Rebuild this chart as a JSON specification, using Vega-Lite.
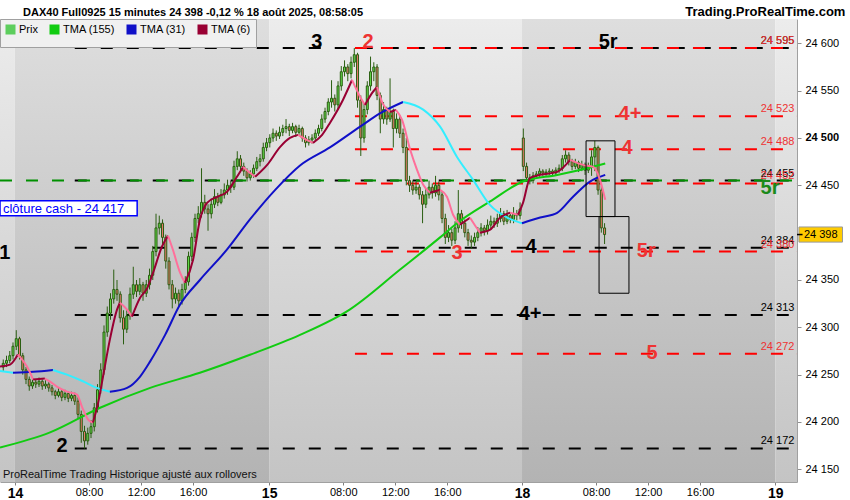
{
"$schema":"https://vega.github.io/schema/vega-lite/v6.json",
"width":797,"height":463,
"autosize":{"type":"none"},
"padding":{"left":0,"top":19,"right":53,"bottom":18},
"background":"#ffffff",
"config":{"view":{"stroke":null},"font":"Liberation Sans"},
"datasets":{
"bands":[{"a":0,"b":4.6,"k":"c"},{"a":4.6,"b":82.8,"k":"f"},{"a":82.8,"b":160.6,"k":"c"},{"a":160.6,"b":238.5,"k":"f"},{"a":238.5,"b":245.2,"k":"c"}],
"levels":[
{"p":24595,"a":23,"k":"noir","lab":"24 595"},{"p":24455,"a":23,"k":"noir","lab":"24 455"},{"p":24384,"a":23,"k":"noir","lab":"24 384"},{"p":24313,"a":23,"k":"noir","lab":"24 313"},{"p":24172,"a":23,"k":"noir","lab":"24 172"},
{"p":24455,"a":0,"k":"vert","lab":""},
{"p":24595,"a":109.2,"k":"rouge","lab":"24 595"},{"p":24523,"a":109.2,"k":"rouge","lab":"24 523"},{"p":24488,"a":109.2,"k":"rouge","lab":"24 488"},{"p":24452,"a":109.2,"k":"rouge","lab":"24 452"},{"p":24380,"a":109.2,"k":"rouge","lab":"24 380"},{"p":24272,"a":109.2,"k":"rouge","lab":"24 272"}],
"notes":[
{"lab":"3","t":97.5,"p":24601,"k":"noir"},{"lab":"2","t":113.2,"p":24601,"k":"rouge"},{"lab":"5r","t":187.1,"p":24601,"k":"noir"},
{"lab":"4+","t":193.8,"p":24525,"k":"rouge"},{"lab":"4","t":192.9,"p":24489,"k":"rouge"},{"lab":"5r","t":236.9,"p":24447,"k":"vert"},
{"lab":"1","t":1.5,"p":24379,"k":"noir"},{"lab":"3","t":140.6,"p":24379,"k":"rouge"},{"lab":"4","t":163.4,"p":24385,"k":"noir"},
{"lab":"5r","t":198.8,"p":24381,"k":"rouge"},{"lab":"4+","t":163.1,"p":24314,"k":"noir"},{"lab":"5","t":200.6,"p":24273,"k":"rouge"},{"lab":"2","t":19.1,"p":24175,"k":"noir"}],
"boxes":[{"a":180.3,"b":189.2,"lo":24417,"hi":24497},{"a":184.3,"b":193.5,"lo":24336,"hi":24417}],
"cash":[{"t0":0,"t1":42.2,"p0":24417.8,"p1":24433.6,"tx":0.9,"py":24425.5,"lab":"clôture cash - 24 417"}],
"marker":[{"t0":245.8,"t1":259.2,"p0":24390,"p1":24406,"tc":252.5,"p":24398,"lab":"24 398"}],
"foot":[{"t":0.9,"p":24143.5,"lab":"ProRealTime Trading  Historique ajusté aux rollovers"}],
"site":[{"t":260.1,"p":24629,"lab":"Trading.ProRealTime.com"}],
"head":[{"t":7.1,"p":24629,"lab":"DAX40 Full0925 15 minutes 24 398 -0,12 % 18 août 2025, 08:58:05"}],
"candles":[
{"t":1,"o":24258,"h":24266,"l":24254,"c":24262},{"t":2,"o":24262,"h":24270,"l":24258,"c":24265},{"t":3,"o":24265,"h":24275,"l":24262,"c":24270},{"t":4,"o":24270,"h":24284,"l":24266,"c":24280},{"t":5,"o":24280,"h":24297,"l":24276,"c":24288},
{"t":6,"o":24288,"h":24290,"l":24266,"c":24270},{"t":7,"o":24270,"h":24273,"l":24250,"c":24255},{"t":8,"o":24255,"h":24258,"l":24240,"c":24245},{"t":9,"o":24245,"h":24248,"l":24233,"c":24238},{"t":10,"o":24238,"h":24246,"l":24235,"c":24242},
{"t":11,"o":24242,"h":24245,"l":24236,"c":24240},{"t":12,"o":24240,"h":24247,"l":24237,"c":24243},{"t":13,"o":24243,"h":24245,"l":24234,"c":24238},{"t":14,"o":24238,"h":24244,"l":24235,"c":24240},{"t":15,"o":24240,"h":24242,"l":24232,"c":24236},
{"t":16,"o":24236,"h":24239,"l":24228,"c":24232},{"t":17,"o":24232,"h":24234,"l":24224,"c":24228},{"t":18,"o":24228,"h":24236,"l":24226,"c":24232},{"t":19,"o":24232,"h":24234,"l":24222,"c":24226},{"t":20,"o":24226,"h":24234,"l":24223,"c":24230},
{"t":21,"o":24230,"h":24232,"l":24221,"c":24225},{"t":22,"o":24225,"h":24232,"l":24222,"c":24228},{"t":23,"o":24228,"h":24231,"l":24218,"c":24222},{"t":24,"o":24222,"h":24226,"l":24203,"c":24208},{"t":25,"o":24208,"h":24212,"l":24178,"c":24190},
{"t":26,"o":24190,"h":24196,"l":24172,"c":24180},{"t":27,"o":24180,"h":24194,"l":24176,"c":24188},{"t":28,"o":24188,"h":24202,"l":24183,"c":24195},{"t":29,"o":24195,"h":24220,"l":24190,"c":24215},{"t":30,"o":24215,"h":24240,"l":24210,"c":24234},
{"t":31,"o":24234,"h":24262,"l":24230,"c":24255},{"t":32,"o":24255,"h":24302,"l":24250,"c":24295},{"t":33,"o":24295,"h":24322,"l":24290,"c":24315},{"t":34,"o":24315,"h":24336,"l":24308,"c":24330},{"t":35,"o":24330,"h":24361,"l":24325,"c":24340},
{"t":36,"o":24340,"h":24350,"l":24328,"c":24335},{"t":37,"o":24335,"h":24338,"l":24305,"c":24310},{"t":38,"o":24310,"h":24318,"l":24282,"c":24298},{"t":39,"o":24298,"h":24318,"l":24294,"c":24312},{"t":40,"o":24312,"h":24342,"l":24308,"c":24335},
{"t":41,"o":24335,"h":24364,"l":24330,"c":24345},{"t":42,"o":24345,"h":24350,"l":24332,"c":24338},{"t":43,"o":24338,"h":24352,"l":24334,"c":24345},{"t":44,"o":24345,"h":24348,"l":24328,"c":24336},{"t":45,"o":24336,"h":24350,"l":24332,"c":24345},
{"t":46,"o":24345,"h":24362,"l":24340,"c":24355},{"t":47,"o":24355,"h":24386,"l":24350,"c":24380},{"t":48,"o":24380,"h":24420,"l":24375,"c":24405},{"t":49,"o":24405,"h":24418,"l":24398,"c":24410},{"t":50,"o":24410,"h":24414,"l":24388,"c":24395},
{"t":51,"o":24395,"h":24398,"l":24362,"c":24370},{"t":52,"o":24370,"h":24374,"l":24340,"c":24345},{"t":53,"o":24345,"h":24350,"l":24320,"c":24330},{"t":54,"o":24330,"h":24342,"l":24325,"c":24336},{"t":55,"o":24336,"h":24340,"l":24322,"c":24328},
{"t":56,"o":24328,"h":24346,"l":24324,"c":24340},{"t":57,"o":24340,"h":24354,"l":24336,"c":24348},{"t":58,"o":24348,"h":24380,"l":24344,"c":24375},{"t":59,"o":24375,"h":24400,"l":24370,"c":24395},{"t":60,"o":24395,"h":24420,"l":24390,"c":24415},
{"t":61,"o":24415,"h":24428,"l":24410,"c":24420},{"t":62,"o":24420,"h":24468,"l":24416,"c":24432},{"t":63,"o":24432,"h":24440,"l":24420,"c":24425},{"t":64,"o":24425,"h":24430,"l":24402,"c":24420},{"t":65,"o":24420,"h":24436,"l":24415,"c":24430},
{"t":66,"o":24430,"h":24446,"l":24426,"c":24438},{"t":67,"o":24438,"h":24442,"l":24428,"c":24432},{"t":68,"o":24432,"h":24446,"l":24430,"c":24440},{"t":69,"o":24440,"h":24452,"l":24436,"c":24445},{"t":70,"o":24445,"h":24456,"l":24440,"c":24450},
{"t":71,"o":24450,"h":24455,"l":24442,"c":24448},{"t":72,"o":24448,"h":24476,"l":24445,"c":24470},{"t":73,"o":24470,"h":24486,"l":24466,"c":24478},{"t":74,"o":24478,"h":24482,"l":24465,"c":24470},{"t":75,"o":24470,"h":24474,"l":24460,"c":24465},
{"t":76,"o":24465,"h":24468,"l":24454,"c":24458},{"t":77,"o":24458,"h":24466,"l":24455,"c":24462},{"t":78,"o":24462,"h":24472,"l":24458,"c":24468},{"t":79,"o":24468,"h":24480,"l":24465,"c":24475},{"t":80,"o":24475,"h":24483,"l":24470,"c":24478},
{"t":81,"o":24478,"h":24495,"l":24475,"c":24490},{"t":82,"o":24490,"h":24500,"l":24486,"c":24495},{"t":83,"o":24495,"h":24504,"l":24490,"c":24500},{"t":84,"o":24500,"h":24510,"l":24496,"c":24505},{"t":85,"o":24505,"h":24508,"l":24497,"c":24502},
{"t":86,"o":24502,"h":24512,"l":24499,"c":24506},{"t":87,"o":24506,"h":24514,"l":24502,"c":24510},{"t":88,"o":24510,"h":24520,"l":24505,"c":24512},{"t":89,"o":24512,"h":24515,"l":24502,"c":24508},{"t":90,"o":24508,"h":24516,"l":24505,"c":24512},
{"t":91,"o":24512,"h":24514,"l":24501,"c":24506},{"t":92,"o":24506,"h":24514,"l":24503,"c":24510},{"t":93,"o":24510,"h":24512,"l":24496,"c":24500},{"t":94,"o":24500,"h":24503,"l":24490,"c":24495},{"t":95,"o":24495,"h":24502,"l":24492,"c":24498},
{"t":96,"o":24498,"h":24504,"l":24494,"c":24500},{"t":97,"o":24500,"h":24509,"l":24497,"c":24505},{"t":98,"o":24505,"h":24514,"l":24502,"c":24510},{"t":99,"o":24510,"h":24525,"l":24507,"c":24520},{"t":100,"o":24520,"h":24532,"l":24516,"c":24528},
{"t":101,"o":24528,"h":24542,"l":24524,"c":24538},{"t":102,"o":24538,"h":24561,"l":24532,"c":24542},{"t":103,"o":24542,"h":24546,"l":24528,"c":24535},{"t":104,"o":24535,"h":24560,"l":24530,"c":24555},{"t":105,"o":24555,"h":24576,"l":24550,"c":24570},
{"t":106,"o":24570,"h":24582,"l":24565,"c":24575},{"t":107,"o":24575,"h":24578,"l":24560,"c":24568},{"t":108,"o":24568,"h":24586,"l":24563,"c":24580},{"t":109,"o":24580,"h":24595,"l":24575,"c":24588},{"t":110,"o":24588,"h":24590,"l":24532,"c":24540},
{"t":111,"o":24540,"h":24545,"l":24481,"c":24500},{"t":112,"o":24500,"h":24536,"l":24495,"c":24530},{"t":113,"o":24530,"h":24560,"l":24525,"c":24555},{"t":114,"o":24555,"h":24586,"l":24550,"c":24570},{"t":115,"o":24570,"h":24580,"l":24560,"c":24575},
{"t":116,"o":24575,"h":24578,"l":24540,"c":24545},{"t":117,"o":24545,"h":24548,"l":24505,"c":24520},{"t":118,"o":24520,"h":24538,"l":24515,"c":24530},{"t":119,"o":24530,"h":24533,"l":24514,"c":24520},{"t":120,"o":24520,"h":24563,"l":24517,"c":24528},
{"t":121,"o":24528,"h":24531,"l":24490,"c":24510},{"t":122,"o":24510,"h":24526,"l":24505,"c":24520},{"t":123,"o":24520,"h":24524,"l":24500,"c":24505},{"t":124,"o":24505,"h":24510,"l":24484,"c":24490},{"t":125,"o":24490,"h":24500,"l":24450,"c":24455},
{"t":126,"o":24455,"h":24460,"l":24443,"c":24450},{"t":127,"o":24450,"h":24455,"l":24440,"c":24445},{"t":128,"o":24445,"h":24454,"l":24441,"c":24448},{"t":129,"o":24448,"h":24451,"l":24435,"c":24440},{"t":130,"o":24440,"h":24444,"l":24410,"c":24430},
{"t":131,"o":24430,"h":24446,"l":24426,"c":24440},{"t":132,"o":24440,"h":24455,"l":24436,"c":24448},{"t":133,"o":24448,"h":24452,"l":24436,"c":24442},{"t":134,"o":24442,"h":24460,"l":24438,"c":24450},{"t":135,"o":24450,"h":24454,"l":24434,"c":24440},
{"t":136,"o":24440,"h":24444,"l":24410,"c":24415},{"t":137,"o":24415,"h":24420,"l":24388,"c":24395},{"t":138,"o":24395,"h":24408,"l":24390,"c":24400},{"t":139,"o":24400,"h":24404,"l":24386,"c":24392},{"t":140,"o":24392,"h":24412,"l":24388,"c":24405},
{"t":141,"o":24405,"h":24445,"l":24400,"c":24420},{"t":142,"o":24420,"h":24424,"l":24404,"c":24410},{"t":143,"o":24410,"h":24414,"l":24395,"c":24400},{"t":144,"o":24400,"h":24404,"l":24386,"c":24392},{"t":145,"o":24392,"h":24397,"l":24383,"c":24390},
{"t":146,"o":24390,"h":24400,"l":24386,"c":24395},{"t":147,"o":24395,"h":24406,"l":24391,"c":24400},{"t":148,"o":24400,"h":24410,"l":24396,"c":24405},{"t":149,"o":24405,"h":24408,"l":24397,"c":24402},{"t":150,"o":24402,"h":24414,"l":24398,"c":24408},
{"t":151,"o":24408,"h":24418,"l":24404,"c":24412},{"t":152,"o":24412,"h":24416,"l":24405,"c":24410},{"t":153,"o":24410,"h":24420,"l":24406,"c":24415},{"t":154,"o":24415,"h":24426,"l":24411,"c":24420},{"t":155,"o":24420,"h":24423,"l":24408,"c":24412},
{"t":156,"o":24412,"h":24424,"l":24409,"c":24418},{"t":157,"o":24418,"h":24421,"l":24410,"c":24414},{"t":158,"o":24414,"h":24427,"l":24410,"c":24420},{"t":159,"o":24420,"h":24424,"l":24413,"c":24418},{"t":160,"o":24418,"h":24432,"l":24414,"c":24425},
{"t":161,"o":24500,"h":24510,"l":24465,"c":24470},{"t":162,"o":24470,"h":24474,"l":24454,"c":24458},{"t":163,"o":24458,"h":24462,"l":24451,"c":24455},{"t":164,"o":24455,"h":24464,"l":24452,"c":24460},{"t":165,"o":24460,"h":24465,"l":24457,"c":24462},
{"t":166,"o":24462,"h":24468,"l":24459,"c":24465},{"t":167,"o":24465,"h":24467,"l":24460,"c":24463},{"t":168,"o":24463,"h":24467,"l":24460,"c":24464},{"t":169,"o":24464,"h":24468,"l":24461,"c":24465},{"t":170,"o":24465,"h":24467,"l":24460,"c":24463},
{"t":171,"o":24463,"h":24469,"l":24460,"c":24466},{"t":172,"o":24466,"h":24472,"l":24463,"c":24468},{"t":173,"o":24468,"h":24482,"l":24465,"c":24478},{"t":174,"o":24478,"h":24487,"l":24474,"c":24482},{"t":175,"o":24482,"h":24485,"l":24471,"c":24475},
{"t":176,"o":24475,"h":24478,"l":24466,"c":24470},{"t":177,"o":24470,"h":24478,"l":24467,"c":24474},{"t":178,"o":24474,"h":24476,"l":24464,"c":24468},{"t":179,"o":24468,"h":24476,"l":24465,"c":24472},{"t":180,"o":24472,"h":24474,"l":24461,"c":24466},
{"t":181,"o":24466,"h":24474,"l":24463,"c":24470},{"t":182,"o":24470,"h":24487,"l":24460,"c":24480},{"t":183,"o":24480,"h":24497,"l":24465,"c":24490},{"t":184,"o":24490,"h":24492,"l":24440,"c":24445},{"t":185,"o":24445,"h":24450,"l":24400,"c":24405},
{"t":186,"o":24405,"h":24410,"l":24388,"c":24398}],
"ma":[
{"t":0,"v":24173,"k":"TMA (155)","g":"a"},{"t":15.4,"v":24189,"k":"TMA (155)","g":"a"},{"t":30.8,"v":24215,"k":"TMA (155)","g":"a"},{"t":46.2,"v":24236,"k":"TMA (155)","g":"a"},{"t":61.5,"v":24252,"k":"TMA (155)","g":"a"},{"t":76.9,"v":24271,"k":"TMA (155)","g":"a"},{"t":92.3,"v":24292,"k":"TMA (155)","g":"a"},{"t":107.7,"v":24319,"k":"TMA (155)","g":"a"},{"t":123.1,"v":24361,"k":"TMA (155)","g":"a"},{"t":135.4,"v":24395,"k":"TMA (155)","g":"a"},{"t":140.6,"v":24410,"k":"TMA (155)","g":"a"},{"t":150.8,"v":24433,"k":"TMA (155)","g":"a"},{"t":160.9,"v":24454,"k":"TMA (155)","g":"a"},{"t":171.4,"v":24461,"k":"TMA (155)","g":"a"},{"t":180.6,"v":24468,"k":"TMA (155)","g":"a"},{"t":186.2,"v":24473,"k":"TMA (155)","g":"a"},
{"t":0,"v":24254,"k":"TMA (31) b","g":"b1"},{"t":4.0,"v":24252,"k":"TMA (31) b","g":"b1"},
{"t":4.0,"v":24252,"k":"TMA (31)","g":"b2"},{"t":10.2,"v":24253,"k":"TMA (31)","g":"b2"},{"t":16.3,"v":24255,"k":"TMA (31)","g":"b2"},
{"t":16.3,"v":24255,"k":"TMA (31) b","g":"b3"},{"t":20.6,"v":24250,"k":"TMA (31) b","g":"b3"},{"t":25.5,"v":24243,"k":"TMA (31) b","g":"b3"},{"t":29.8,"v":24236,"k":"TMA (31) b","g":"b3"},{"t":33.8,"v":24232,"k":"TMA (31) b","g":"b3"},
{"t":33.8,"v":24232,"k":"TMA (31)","g":"b4"},{"t":39.1,"v":24236,"k":"TMA (31)","g":"b4"},{"t":43.1,"v":24248,"k":"TMA (31)","g":"b4"},{"t":46.2,"v":24264,"k":"TMA (31)","g":"b4"},{"t":50.8,"v":24292,"k":"TMA (31)","g":"b4"},{"t":55.4,"v":24324,"k":"TMA (31)","g":"b4"},{"t":61.5,"v":24350,"k":"TMA (31)","g":"b4"},{"t":69.8,"v":24382,"k":"TMA (31)","g":"b4"},{"t":76.9,"v":24414,"k":"TMA (31)","g":"b4"},{"t":84.6,"v":24445,"k":"TMA (31)","g":"b4"},{"t":92.3,"v":24471,"k":"TMA (31)","g":"b4"},{"t":101.5,"v":24490,"k":"TMA (31)","g":"b4"},{"t":110.8,"v":24512,"k":"TMA (31)","g":"b4"},{"t":116.9,"v":24526,"k":"TMA (31)","g":"b4"},{"t":124.0,"v":24538,"k":"TMA (31)","g":"b4"},
{"t":124.0,"v":24538,"k":"TMA (31) b","g":"b5"},{"t":130.2,"v":24530,"k":"TMA (31) b","g":"b5"},{"t":135.4,"v":24512,"k":"TMA (31) b","g":"b5"},{"t":140.6,"v":24480,"k":"TMA (31) b","g":"b5"},{"t":145.5,"v":24456,"k":"TMA (31) b","g":"b5"},{"t":150.8,"v":24429,"k":"TMA (31) b","g":"b5"},{"t":156.0,"v":24416,"k":"TMA (31) b","g":"b5"},{"t":160.6,"v":24410,"k":"TMA (31) b","g":"b5"},
{"t":160.6,"v":24410,"k":"TMA (31)","g":"b6"},{"t":166.2,"v":24416,"k":"TMA (31)","g":"b6"},{"t":171.4,"v":24421,"k":"TMA (31)","g":"b6"},{"t":176.3,"v":24438,"k":"TMA (31)","g":"b6"},{"t":181.5,"v":24454,"k":"TMA (31)","g":"b6"},{"t":186.2,"v":24461,"k":"TMA (31)","g":"b6"},
{"t":0,"v":24258.5,"k":"TMA (6)","g":"c1"},{"t":3.1,"v":24260.6,"k":"TMA (6)","g":"c1"},{"t":5.5,"v":24271.2,"k":"TMA (6)","g":"c1"},
{"t":5.5,"v":24271.2,"k":"TMA (6) b","g":"c2"},{"t":8.3,"v":24258.5,"k":"TMA (6) b","g":"c2"},{"t":10.2,"v":24244.8,"k":"TMA (6) b","g":"c2"},
{"t":10.2,"v":24244.8,"k":"TMA (6)","g":"c3"},{"t":13.8,"v":24245.9,"k":"TMA (6)","g":"c3"},
{"t":13.8,"v":24245.9,"k":"TMA (6) b","g":"c4"},{"t":15.4,"v":24242.7,"k":"TMA (6) b","g":"c4"},{"t":17.5,"v":24237.4,"k":"TMA (6) b","g":"c4"},{"t":20.6,"v":24232.1,"k":"TMA (6) b","g":"c4"},{"t":23.7,"v":24229.0,"k":"TMA (6) b","g":"c4"},{"t":25.2,"v":24216.3,"k":"TMA (6) b","g":"c4"},{"t":27.1,"v":24202.6,"k":"TMA (6) b","g":"c4"},{"t":28.6,"v":24199.4,"k":"TMA (6) b","g":"c4"},
{"t":28.6,"v":24199.4,"k":"TMA (6)","g":"c5"},{"t":30.2,"v":24220.5,"k":"TMA (6)","g":"c5"},{"t":31.7,"v":24248.0,"k":"TMA (6)","g":"c5"},{"t":33.8,"v":24287.0,"k":"TMA (6)","g":"c5"},{"t":36,"v":24318.7,"k":"TMA (6)","g":"c5"},{"t":36.9,"v":24326.0,"k":"TMA (6)","g":"c5"},
{"t":36.9,"v":24326.0,"k":"TMA (6) b","g":"c6"},{"t":39.1,"v":24318.7,"k":"TMA (6) b","g":"c6"},{"t":40.6,"v":24311.3,"k":"TMA (6) b","g":"c6"},
{"t":40.6,"v":24311.3,"k":"TMA (6)","g":"c7"},{"t":43.1,"v":24331.3,"k":"TMA (6)","g":"c7"},{"t":45.2,"v":24340.8,"k":"TMA (6)","g":"c7"},{"t":47.1,"v":24357.7,"k":"TMA (6)","g":"c7"},{"t":49.8,"v":24385.1,"k":"TMA (6)","g":"c7"},{"t":51.7,"v":24396.7,"k":"TMA (6)","g":"c7"},
{"t":51.7,"v":24396.7,"k":"TMA (6) b","g":"c8"},{"t":53.2,"v":24381.9,"k":"TMA (6) b","g":"c8"},{"t":55.4,"v":24357.7,"k":"TMA (6) b","g":"c8"},{"t":56.9,"v":24347.1,"k":"TMA (6) b","g":"c8"},
{"t":56.9,"v":24347.1,"k":"TMA (6)","g":"c9"},{"t":59.4,"v":24371.4,"k":"TMA (6)","g":"c9"},{"t":61.5,"v":24413.6,"k":"TMA (6)","g":"c9"},{"t":63.7,"v":24431.5,"k":"TMA (6)","g":"c9"},{"t":66.8,"v":24437.9,"k":"TMA (6)","g":"c9"},{"t":69.8,"v":24443.1,"k":"TMA (6)","g":"c9"},{"t":72.9,"v":24459.0,"k":"TMA (6)","g":"c9"},{"t":74.8,"v":24469.5,"k":"TMA (6)","g":"c9"},
{"t":74.8,"v":24469.5,"k":"TMA (6) b","g":"c10"},{"t":76.9,"v":24463.2,"k":"TMA (6) b","g":"c10"},{"t":78.5,"v":24459.0,"k":"TMA (6) b","g":"c10"},
{"t":78.5,"v":24459.0,"k":"TMA (6)","g":"c11"},{"t":82.2,"v":24471.6,"k":"TMA (6)","g":"c11"},{"t":86.2,"v":24490.6,"k":"TMA (6)","g":"c11"},{"t":89.2,"v":24500.1,"k":"TMA (6)","g":"c11"},{"t":91.7,"v":24503.3,"k":"TMA (6)","g":"c11"},
{"t":91.7,"v":24503.3,"k":"TMA (6) b","g":"c12"},{"t":93.8,"v":24499.1,"k":"TMA (6) b","g":"c12"},{"t":96.3,"v":24494.8,"k":"TMA (6) b","g":"c12"},
{"t":96.3,"v":24494.8,"k":"TMA (6)","g":"c13"},{"t":99.1,"v":24503.3,"k":"TMA (6)","g":"c13"},{"t":101.5,"v":24515.9,"k":"TMA (6)","g":"c13"},{"t":105.5,"v":24540.2,"k":"TMA (6)","g":"c13"},{"t":108.3,"v":24561.3,"k":"TMA (6)","g":"c13"},
{"t":108.3,"v":24561.3,"k":"TMA (6) b","g":"c14"},{"t":110.8,"v":24543.4,"k":"TMA (6) b","g":"c14"},{"t":112.3,"v":24534.9,"k":"TMA (6) b","g":"c14"},
{"t":112.3,"v":24534.9,"k":"TMA (6)","g":"c15"},{"t":114.5,"v":24547.6,"k":"TMA (6)","g":"c15"},{"t":116,"v":24553.9,"k":"TMA (6)","g":"c15"},
{"t":116,"v":24553.9,"k":"TMA (6) b","g":"c16"},{"t":117.8,"v":24536.0,"k":"TMA (6) b","g":"c16"},{"t":120,"v":24527.5,"k":"TMA (6) b","g":"c16"},
{"t":120,"v":24527.5,"k":"TMA (6)","g":"c17"},{"t":121.8,"v":24529.7,"k":"TMA (6)","g":"c17"},
{"t":121.8,"v":24529.7,"k":"TMA (6) b","g":"c18"},{"t":123.7,"v":24519.1,"k":"TMA (6) b","g":"c18"},{"t":126.2,"v":24487.5,"k":"TMA (6) b","g":"c18"},{"t":128.3,"v":24466.4,"k":"TMA (6) b","g":"c18"},{"t":130.2,"v":24450.5,"k":"TMA (6) b","g":"c18"},{"t":132.3,"v":24442.1,"k":"TMA (6) b","g":"c18"},
{"t":132.3,"v":24442.1,"k":"TMA (6)","g":"c19"},{"t":135.4,"v":24445.3,"k":"TMA (6)","g":"c19"},
{"t":135.4,"v":24445.3,"k":"TMA (6) b","g":"c20"},{"t":137.5,"v":24437.9,"k":"TMA (6) b","g":"c20"},{"t":139.4,"v":24418.9,"k":"TMA (6) b","g":"c20"},{"t":141.5,"v":24408.3,"k":"TMA (6) b","g":"c20"},
{"t":141.5,"v":24408.3,"k":"TMA (6)","g":"c21"},{"t":144.6,"v":24415.7,"k":"TMA (6)","g":"c21"},
{"t":144.6,"v":24415.7,"k":"TMA (6) b","g":"c22"},{"t":146.2,"v":24407.3,"k":"TMA (6) b","g":"c22"},{"t":147.7,"v":24399.9,"k":"TMA (6) b","g":"c22"},
{"t":147.7,"v":24399.9,"k":"TMA (6)","g":"c23"},{"t":150.8,"v":24403.1,"k":"TMA (6)","g":"c23"},{"t":153.8,"v":24415.7,"k":"TMA (6)","g":"c23"},{"t":156.9,"v":24421.0,"k":"TMA (6)","g":"c23"},
{"t":156.9,"v":24421.0,"k":"TMA (6) b","g":"c24"},{"t":159.4,"v":24418.9,"k":"TMA (6) b","g":"c24"},
{"t":159.4,"v":24418.9,"k":"TMA (6)","g":"c25"},{"t":160.9,"v":24431.5,"k":"TMA (6)","g":"c25"},{"t":163.1,"v":24457.9,"k":"TMA (6)","g":"c25"},{"t":166.2,"v":24461.1,"k":"TMA (6)","g":"c25"},{"t":171.4,"v":24464.2,"k":"TMA (6)","g":"c25"},{"t":175.4,"v":24476.9,"k":"TMA (6)","g":"c25"},
{"t":175.4,"v":24476.9,"k":"TMA (6) b","g":"c26"},{"t":179.4,"v":24471.6,"k":"TMA (6) b","g":"c26"},{"t":182.5,"v":24469.5,"k":"TMA (6) b","g":"c26"},{"t":184.6,"v":24455.8,"k":"TMA (6) b","g":"c26"},{"t":186.2,"v":24434.7,"k":"TMA (6) b","g":"c26"}]
},
"layer":[
{"data":{"name":"bands"},"transform":[{"filter":"datum.k=='f'"}],
 "mark":{"type":"rect","color":{"gradient":"linear","x1":0,"y1":0,"x2":0,"y2":1,"stops":[{"offset":0,"color":"#dedede"},{"offset":1,"color":"#b3b3b3"}]}},
 "encoding":{"x":{"field":"a","type":"quantitative","scale":{"domain":[0,245.2],"nice":false,"zero":false,"padding":0},
   "axis":{"values":[4.6,27.4,43.4,59.4,82.8,105.6,121.6,137.6,160.6,183.4,199.4,215.4,238.5],
     "labelExpr":"datum.value<10?'14':datum.value<30?'08:00':datum.value<50?'12:00':datum.value<70?'16:00':datum.value<90?'15':datum.value<110?'08:00':datum.value<130?'12:00':datum.value<150?'16:00':datum.value<170?'18':datum.value<190?'08:00':datum.value<205?'12:00':datum.value<225?'16:00':'19'",
     "title":null,"grid":false,"tickSize":3,"tickColor":"#808080","domainColor":"#a0a0a0","labelPadding":1,"labelColor":"#000000","labelFont":"Liberation Sans","labelOverlap":false,"labelFlush":false,"labelBaseline":"top",
     "labelFontSize":{"condition":{"test":"datum.value<10 || (datum.value>80 && datum.value<90) || (datum.value>155 && datum.value<170) || datum.value>230","value":14},"value":11},
     "labelFontWeight":{"condition":{"test":"datum.value<10 || (datum.value>80 && datum.value<90) || (datum.value>155 && datum.value<170) || datum.value>230","value":"bold"},"value":"normal"}}},
  "x2":{"field":"b"}}},
{"data":{"name":"bands"},"transform":[{"filter":"datum.k=='c'"}],
 "mark":{"type":"rect","color":{"gradient":"linear","x1":0,"y1":0,"x2":0,"y2":1,"stops":[{"offset":0,"color":"#ececec"},{"offset":1,"color":"#c4c4c4"}]}},
 "encoding":{"x":{"field":"a","type":"quantitative","axis":{"title":null}},"x2":{"field":"b"}}},
{"data":{"name":"levels"},
 "mark":{"type":"rule","strokeDash":[12,14],"strokeWidth":2},
 "encoding":{"x":{"field":"a","type":"quantitative","axis":{"title":null}},"x2":{"datum":245.2},
  "y":{"field":"p","type":"quantitative","scale":{"domain":[24136.6,24625.7],"nice":false,"zero":false},
   "axis":{"orient":"right","values":[24150,24200,24250,24300,24350,24450,24500,24550,24600],"labelExpr":"replace(format(datum.value, ','), ',', ' ')","grid":false,"tickSize":4,"tickColor":"#909090","domainColor":"#a0a0a0","labelPadding":4,"labelFontSize":11,"labelFont":"Liberation Sans","labelColor":"#000000",
    "labelFontWeight":{"condition":{"test":"datum.value==24500","value":"bold"},"value":"normal"},"title":null}},
  "stroke":{"field":"k","type":"nominal","scale":{"domain":["noir","rouge","vert"],"range":["#000000","#ff0000","#009000"]},"legend":null}}},
{"data":{"name":"candles"},
 "mark":{"type":"rule","color":"#2b5e12","strokeWidth":1},
 "encoding":{"x":{"field":"t","type":"quantitative","axis":{"title":null}},
  "y":{"field":"l","type":"quantitative","axis":{"title":null}},
  "y2":{"field":"h"}}},
{"data":{"name":"candles"},
 "mark":{"type":"bar","size":2,"stroke":"#2b5e12","strokeWidth":1},
 "encoding":{"x":{"field":"t","type":"quantitative","axis":{"title":null}},
  "y":{"field":"o","type":"quantitative","axis":{"title":null}},"y2":{"field":"c"},
  "fill":{"condition":{"test":"datum.c>=datum.o","value":"#62d84a"},"value":"#e8796c"}}},
{"mark":{"type":"rule","color":"#0000ff","strokeWidth":2},
 "encoding":{"y":{"datum":24417,"type":"quantitative","axis":{"title":null}}}},
{"data":{"name":"ma"},
 "mark":{"type":"line","strokeWidth":2,"interpolate":"monotone"},
 "encoding":{"x":{"field":"t","type":"quantitative","axis":{"title":null}},
  "y":{"field":"v","type":"quantitative","axis":{"title":null}},
  "detail":{"field":"g"},
  "color":{"field":"k","type":"nominal","scale":{"domain":["Prix","TMA (155)","TMA (31)","TMA (6)","TMA (31) b","TMA (6) b"],"range":["#5dce5d","#11cc11","#1010c8","#990033","#33eeff","#ff6f9a"]},
   "legend":{"title":null,"orient":"top-left","offset":0,"direction":"horizontal","values":["Prix","TMA (155)","TMA (31)","TMA (6)"],"symbolType":"square","symbolSize":25,"symbolStrokeWidth":5,"symbolOpacity":1,"labelFontSize":11,"labelFont":"Liberation Sans","labelColor":"#000000","fillColor":"#f0f0f0","strokeColor":"#a0a0a0","padding":5,"columnPadding":4,"labelOffset":3}}}},
{"data":{"name":"cash"},
 "mark":{"type":"rect","fill":"#ffffff","stroke":"#0000ff","strokeWidth":1.5},
 "encoding":{"x":{"field":"t0","type":"quantitative","axis":{"title":null}},"x2":{"field":"t1"},"y":{"field":"p0","type":"quantitative","axis":{"title":null}},"y2":{"field":"p1"}}},
{"data":{"name":"cash"},
 "mark":{"type":"text","align":"left","baseline":"middle","fontSize":13,"color":"#0000ff","font":"Liberation Sans"},
 "encoding":{"x":{"field":"tx","type":"quantitative","axis":{"title":null}},"y":{"field":"py","type":"quantitative","axis":{"title":null}},"text":{"field":"lab"}}},
{"data":{"name":"levels"},"transform":[{"filter":"datum.k!='vert'"}],
 "mark":{"type":"text","align":"right","baseline":"alphabetic","dy":-4,"fontSize":11,"font":"Liberation Sans"},
 "encoding":{"x":{"datum":244.4,"type":"quantitative","axis":{"title":null}},"y":{"field":"p","type":"quantitative","axis":{"title":null}},"text":{"field":"lab"},
  "fill":{"field":"k","type":"nominal","scale":{"domain":["noir","rouge","vert"],"range":["#000000","#ee3333","#1a8a1a"]},"legend":null}}},
{"data":{"name":"notes"},
 "mark":{"type":"text","align":"center","baseline":"middle","fontSize":20,"fontWeight":"bold","font":"Liberation Sans"},
 "encoding":{"x":{"field":"t","type":"quantitative","axis":{"title":null}},"y":{"field":"p","type":"quantitative","axis":{"title":null}},"text":{"field":"lab"},
  "fill":{"field":"k","type":"nominal","legend":null}}},
{"data":{"name":"boxes"},
 "mark":{"type":"rect","fillOpacity":0,"stroke":"#000000","strokeWidth":1},
 "encoding":{"x":{"field":"a","type":"quantitative","axis":{"title":null}},"x2":{"field":"b"},"y":{"field":"lo","type":"quantitative","axis":{"title":null}},"y2":{"field":"hi"}}},
{"data":{"name":"marker"},
 "mark":{"type":"rect","fill":"#ffcc00","stroke":"#999999","strokeWidth":1},
 "encoding":{"x":{"field":"t0","type":"quantitative","axis":{"title":null}},"x2":{"field":"t1"},"y":{"field":"p0","type":"quantitative","axis":{"title":null}},"y2":{"field":"p1"}}},
{"data":{"name":"marker"},
 "mark":{"type":"text","align":"center","baseline":"middle","fontSize":11,"color":"#000000","font":"Liberation Sans"},
 "encoding":{"x":{"field":"tc","type":"quantitative","axis":{"title":null}},"y":{"field":"p","type":"quantitative","axis":{"title":null}},"text":{"field":"lab"}}},
{"data":{"name":"marker"},
 "mark":{"type":"rule","color":"#000000","strokeWidth":1.5},
 "encoding":{"x":{"datum":245.2,"type":"quantitative","axis":{"title":null}},"x2":{"datum":246.9},"y":{"field":"p","type":"quantitative","axis":{"title":null}}}},
{"data":{"name":"foot"},
 "mark":{"type":"text","align":"left","baseline":"middle","fontSize":11,"color":"#111111","font":"Liberation Sans"},
 "encoding":{"x":{"field":"t","type":"quantitative","axis":{"title":null}},"y":{"field":"p","type":"quantitative","axis":{"title":null}},"text":{"field":"lab"}}},
{"data":{"name":"site"},
 "mark":{"type":"text","align":"right","baseline":"alphabetic","fontSize":13,"fontWeight":"bold","color":"#000000","font":"Liberation Sans"},
 "encoding":{"x":{"field":"t","type":"quantitative","axis":{"title":null}},"y":{"field":"p","type":"quantitative","axis":{"title":null}},"text":{"field":"lab"}}},
{"data":{"name":"head"},
 "mark":{"type":"text","align":"left","baseline":"alphabetic","fontSize":11,"fontWeight":"bold","color":"#000000","font":"Liberation Sans"},
 "encoding":{"x":{"field":"t","type":"quantitative","axis":{"title":null}},"y":{"field":"p","type":"quantitative","axis":{"title":null}},"text":{"field":"lab"}}}
]
}
